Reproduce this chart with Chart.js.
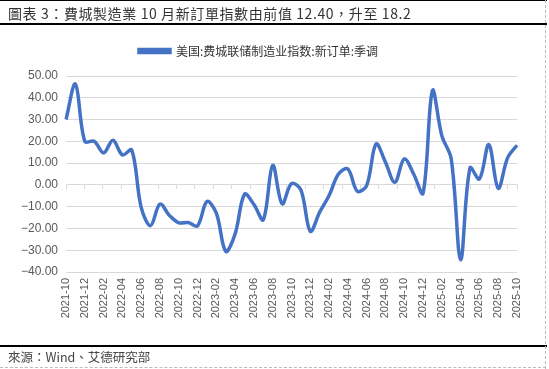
<!DOCTYPE html>
<html>
<head>
<meta charset="utf-8">
<script src="https://cdn.jsdelivr.net/npm/chart.js@4.4.1/dist/chart.umd.min.js"></script>
<style>
  html, body { margin: 0; padding: 0; background: #fff; }
  #page { position: relative; width: 549px; height: 369px; overflow: hidden; }
  #chart { position: absolute; left: 0; top: 0; }
  .rule { position: absolute; left: 0; width: 547px; background: #000; }
  #title {
    position: absolute; left: 8px; top: 4px; line-height: 18px;
    font-family: "Noto Sans CJK TC", "Noto Sans CJK SC", serif;
    font-size: 14px; color: #333; letter-spacing: 0.6px; white-space: nowrap;
  }
  #source {
    position: absolute; left: 8px; top: 348px; line-height: 18px;
    font-family: "Noto Sans CJK TC", "Noto Sans CJK SC", serif;
    font-size: 12.5px; color: #444; white-space: nowrap;
  }
  #dashR { position: absolute; left: 545px; top: 0; height: 369px; border-left: 1px dashed #bbb; }
  #dashB { position: absolute; left: 0; top: 367px; width: 546px; border-top: 1px dashed #bbb; }
</style>
</head>
<body>
<div id="page">
  <canvas id="chart" width="549" height="369"></canvas>
  <div class="rule" style="top:0;height:1px"></div>
  <div id="title">圖表 3：費城製造業 10 月新訂單指數由前值 12.40，升至 18.2</div>
  <div class="rule" style="top:23px;height:2px"></div>
  <div class="rule" style="top:345px;height:2px"></div>
  <div id="source">來源：Wind、艾德研究部</div>
  <div id="dashR"></div>
  <div id="dashB"></div>
</div>
<script>
// months, 2021-10 .. 2025-10
const months = [
  '2021-10', '2021-11', '2021-12',
  '2022-01', '2022-02', '2022-03', '2022-04', '2022-05', '2022-06',
  '2022-07', '2022-08', '2022-09', '2022-10', '2022-11', '2022-12',
  '2023-01', '2023-02', '2023-03', '2023-04', '2023-05', '2023-06',
  '2023-07', '2023-08', '2023-09', '2023-10', '2023-11', '2023-12',
  '2024-01', '2024-02', '2024-03', '2024-04', '2024-05', '2024-06',
  '2024-07', '2024-08', '2024-09', '2024-10', '2024-11', '2024-12',
  '2025-01', '2025-02', '2025-03', '2025-04', '2025-05', '2025-06',
  '2025-07', '2025-08', '2025-09', '2025-10'
];

// 美国:费城联储制造业指数:新订单:季调
const newOrders = [
  30.0, 46.3, 20.0,
  20.0, 14.7, 20.5, 13.8, 16.0, -10.3,
  -18.7, -8.8, -14.0, -17.4, -17.3, -18.8,
  -7.6, -13.0, -30.5, -22.5, -4.3, -9.0,
  -16.0, 9.0, -8.7, 0.6, -2.3, -21.3,
  -12.5, -4.9, 5.0, 7.3, -2.9, -0.3,
  18.8, 10.4, 1.2, 11.9, 5.0, -3.8,
  43.3, 22.6, 11.9, -34.3, 7.8, 2.7,
  18.5, -1.6, 12.4, 18.2
];

const seriesName = '美国:费城联储制造业指数:新订单:季调';
const yMin = -40, yMax = 50, yStep = 10;

const lineColor = '#4472C4';
const gridColor = '#D9D9D9';
const tickColor = '#595959';

new Chart(document.getElementById('chart').getContext('2d'), {
  type: 'line',
  data: {
    labels: months,
    datasets: [{
      label: seriesName,
      data: newOrders,
      borderColor: lineColor,
      backgroundColor: lineColor,
      borderWidth: 3.5,
      pointRadius: 0,
      tension: 0.35,
      fill: false
    }]
  },
  options: {
    responsive: false,
    animation: false,
    layout: { padding: { top: 27, right: 32, bottom: 0, left: 0 } },
    plugins: {
      legend: {
        position: 'top',
        labels: {
          boxWidth: 31,
          boxHeight: 3,
          padding: 18,
          color: '#333',
          font: { family: '"Noto Sans CJK SC", sans-serif', size: 12 }
        }
      },
      tooltip: { enabled: false }
    },
    scales: {
      x: {
        type: 'category',
        position: 'bottom',
        grid: { display: false, drawTicks: false },
        border: { display: false },
        ticks: {
          autoSkip: false,
          minRotation: 90,
          maxRotation: 90,
          padding: 6,
          color: tickColor,
          font: { family: '"Liberation Sans", Arial, sans-serif', size: 11 },
          callback: function (v, i) { return i % 2 ? '' : months[i]; }
        },
        afterFit: function (scale) { scale.height = 97; }
      },
      // empty strip between legend and plot
      xTop: {
        type: 'category',
        axis: 'x',
        position: 'top',
        grid: { display: false, drawTicks: false },
        border: { display: false },
        ticks: { display: false },
        afterFit: function (scale) { scale.height = 9; }
      },
      // zero line with tick marks
      x2: {
        type: 'category',
        axis: 'x',
        position: { y: 0 },
        offset: true,
        grid: {
          drawOnChartArea: false,
          drawTicks: true,
          tickLength: 4,
          offset: true,
          color: function (ctx) { return ctx.index % 2 ? 'rgba(0,0,0,0)' : gridColor; }
        },
        border: { display: true, color: gridColor, width: 1 },
        ticks: { display: false, autoSkip: false }
      },
      y: {
        min: yMin,
        max: yMax,
        border: { display: false },
        grid: { color: gridColor, lineWidth: 1, drawTicks: false },
        ticks: {
          stepSize: yStep,
          padding: 8,
          color: tickColor,
          font: { family: '"Liberation Sans", Arial, sans-serif', size: 12 },
          callback: function (v) { return (v < 0 ? '\u2212' : '') + Math.abs(v).toFixed(2); }
        },
        afterFit: function (scale) { scale.width = 66; }
      }
    }
  }
});
</script>
</body>
</html>
